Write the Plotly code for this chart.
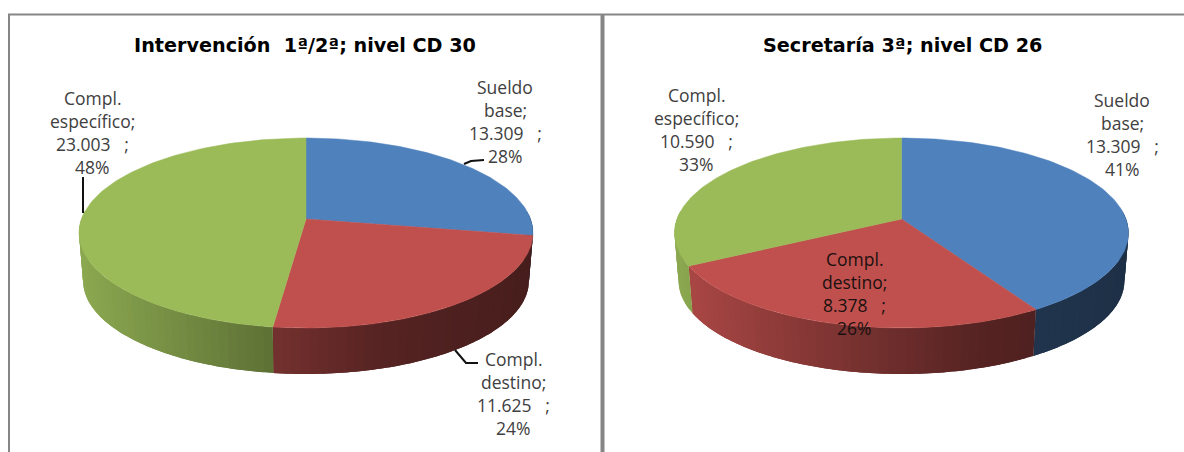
import numpy as np
import plotly.graph_objects as go

# ---- data ----
categories = ["Sueldo base", "Compl. destino", "Compl. específico"]
titles = ["Intervención  1ª/2ª; nivel CD 30", "Secretaría 3ª; nivel CD 26"]
values_left = [13309, 11625, 23003]
values_right = [13309, 8378, 10590]
GAP = "\u00a0\u00a0\u00a0"
labels_left = [
    ["Sueldo", "base;", "13.309" + GAP + ";", "28%"],
    ["Compl.", "destino;", "11.625" + GAP + ";", "24%"],
    ["Compl.", "específico;", "23.003" + GAP + ";", "48%"],
]
labels_right = [
    ["Sueldo", "base;", "13.309" + GAP + ";", "41%"],
    ["Compl.", "destino;", "8.378" + GAP + ";", "26%"],
    ["Compl.", "específico;", "10.590" + GAP + ";", "33%"],
]

# ---- styling / layout ----
colors = [(79, 129, 189), (192, 80, 77), (155, 187, 89)]
FONT = "Open Sans"
W, H = 1184, 452
K, RAD, B = 0.1475, 224.5, 92.9      # perspective of the pie's top face
DEPTH, BOTTOM_SCALE = 48, 0.982
SHADE_T = [0, 0.43, 0.68, 0.8, 1]
SHADE_F = [0.90, 0.60, 0.44, 0.41, 0.37]


def project(theta, cx, cy, s=1.0, d=0.0):
    u, v = np.sin(theta), -np.cos(theta)
    w = 1 - K * v
    return cx + RAD * s * u / w, cy + d + B * s * v / w


def rgb(c, f=1.0):
    return "rgb(%d,%d,%d)" % tuple(round(x * f) for x in c)


def add_pie(fig, values, cx, cy):
    fr = np.cumsum([0] + list(values)) / sum(values)
    edges = fr * 2 * np.pi
    lo, hi = np.radians(85), np.radians(275)
    half = RAD / np.sqrt(1 - K * K)
    # side wall, drawn as thin shaded strips that overlap the next one
    for i, c in enumerate(colors):
        a, b = max(edges[i], lo), min(edges[i + 1], hi)
        if b <= a:
            continue
        n = max(2, int((b - a) / np.radians(2.0)))
        ts = np.linspace(a, b, n + 1)
        for t0, t1 in zip(ts[:-1], ts[1:]):
            sub = np.linspace(t0, b if t1 == ts[-1] else min(b, t1 + (t1 - t0)), 5)
            xt, yt = project(sub, cx, cy)
            xb, yb = project(sub[::-1], cx, cy, BOTTOM_SCALE, DEPTH)
            tm = (project((t0 + t1) / 2, cx, cy)[0] - (cx - half)) / (2 * half)
            col = rgb(c, float(np.interp(tm, SHADE_T, SHADE_F)))
            fig.add_trace(go.Scatter(
                x=np.r_[xt, xb], y=np.r_[yt, yb], mode="none", fill="toself",
                fillcolor=col, hoverinfo="skip",
            ))
    # top face
    for i, c in enumerate(colors):
        ts = np.linspace(edges[i], edges[i + 1], 120)
        xs, ys = project(ts, cx, cy)
        fig.add_trace(go.Scatter(
            x=np.r_[cx, xs, cx], y=np.r_[cy, ys, cy], mode="lines", fill="toself",
            fillcolor=rgb(c), line=dict(color=rgb(c), width=0.5),
            name=categories[i], hoverinfo="skip",
        ))


fig = go.Figure()
add_pie(fig, values_left, 306, 219)
add_pie(fig, values_right, 901.5, 219)

# leader lines
for lx, ly in [([464, 471, 484], [164, 161, 160]),
               ([83, 83], [177, 213]),
               ([455, 466, 478], [350, 363, 363])]:
    fig.add_trace(go.Scatter(x=lx, y=ly, mode="lines",
                             line=dict(color="#111111", width=2), hoverinfo="skip"))


def text(s, x, y, size=17.5, color="#404040", bold=False, family=FONT):
    fig.add_annotation(x=x, y=y, xref="x", yref="y", text=f"<b>{s}</b>" if bold else s,
                       showarrow=False, xanchor="center", yanchor="middle",
                       font=dict(family=family, size=size, color=color))


LINE = 23
placements = [
    (labels_left, [(505, 87), (513, 359), (92, 98)], ["#404040"] * 3),
    (labels_right, [(1122, 100), (854, 259), (696, 95)], ["#404040", "#1a1010", "#404040"]),
]
for lab, pos, cols in placements:
    for lines, (px, py), col in zip(lab, pos, cols):
        for j, s in enumerate(lines):
            text(s, px, py + j * LINE, color=col)
text(titles[0], 305, 45, size=19.2, color="#000000", bold=True, family="DejaVu Sans")
text(titles[1], 902, 45, size=19.2, color="#000000", bold=True, family="DejaVu Sans")

# panel frame
fig.add_shape(type="line", x0=8, x1=W, y0=14.5, y1=14.5, line=dict(color="#868686", width=2))
fig.add_shape(type="line", x0=9, x1=9, y0=14, y1=H, line=dict(color="#868686", width=2))
fig.add_shape(type="line", x0=602.5, x1=602.5, y0=14, y1=H, line=dict(color="#868686", width=4))

fig.update_layout(
    width=W, height=H, margin=dict(l=0, r=0, t=0, b=0), showlegend=False,
    paper_bgcolor="white", plot_bgcolor="white",
    xaxis=dict(range=[0, W], visible=False, fixedrange=True),
    yaxis=dict(range=[H, 0], visible=False, fixedrange=True),
)
fig.write_html("out.html", config={"displayModeBar": False},
               post_script="document.body.style.margin='0';")
